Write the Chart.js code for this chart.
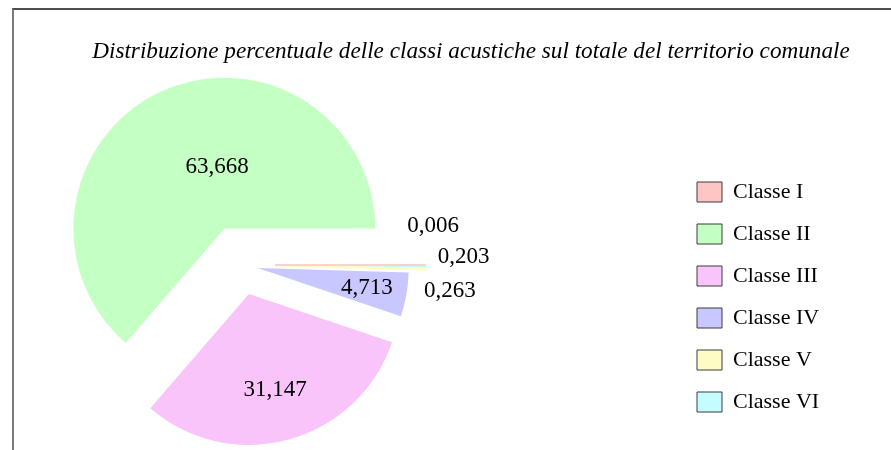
<!DOCTYPE html>
<html>
<head>
<meta charset="utf-8">
<script src="https://cdn.jsdelivr.net/npm/chart.js@4.4.1/dist/chart.umd.min.js"></script>
<style>
  html, body { margin: 0; padding: 0; background: #fff; }
  body { width: 891px; height: 450px; position: relative; overflow: hidden; }
  .cornice { position: absolute; left: 12px; top: 8px; width: 900px; height: 460px;
             border-left: 2px solid #7a7a7a; border-top: 2px solid #4d4d4d; }
  #box { position: absolute; left: 0; top: 0; width: 891px; height: 450px; }
</style>
</head>
<body>
<div class="cornice"></div>
<div id="box"><canvas id="torta"></canvas></div>
<script>
// dati
const classi = ['Classe I', 'Classe II', 'Classe III', 'Classe IV', 'Classe V', 'Classe VI'];
const percentuali = [0.006, 63.668, 31.147, 4.713, 0.263, 0.203];
const colori = ['#ffc4c4', '#c4ffc4', '#f8c4fa', '#c9c7ff', '#fffbc4', '#c4fcff'];
const titolo = 'Distribuzione percentuale delle classi acustiche sul totale del territorio comunale';

// stile: distanza di "esplosione" delle fette e posizione etichette (frazione raggio, rotazione gradi)
const esplosione = [34, 40, 30, 17, 34, 34];
const etichette = [[1.08, -14], [0.41, 18], [0.66, 0], [0.735, 0], [1.17, 7], [1.25, -3]];

const serif = '"Liberation Serif", "Times New Roman", serif';
const R = 151;
const centroX = 241, centroY = 265, titoloX = 471, titoloW = 759, legendaX = 697;

// Chart.js gira in senso orario, l'originale in senso antiorario
const ordine = classi.map((c, i) => i).reverse();

function testo(v) {
  return v.toFixed(3).replace('.', ',');
}

// misure dei testi per sistemare il layout
const mis = document.createElement('canvas').getContext('2d');
mis.font = '22px ' + serif;
const maxTesto = Math.max(...classi.map(c => mis.measureText(c).width));
const legendaW = 20 + 25 + 11 + maxTesto + 10;
mis.font = 'italic 24px ' + serif;
const titoloSize = 24 * (titoloW - 1) / mis.measureText(titolo).width;

// titolo su [pl, 891-pr]; torta centrata in centroX; spazi vuoti prima e dopo la legenda
const pl = titoloX - titoloW / 2;
const pr = 891 - (titoloX + titoloW / 2);
const spazioPrima = (legendaX - 20) - (2 * centroX - pl);
const spazioDopo = (891 - pr) - (legendaX - 20) - legendaW;
const pb = 17;
const titoloPadTop = 38;
const titoloPadBottom = (2 * centroY - (450 - pb)) - titoloPadTop - titoloSize * 1.2;

function spazioVuoto(larghezza, peso) {
  return {
    position: 'right', weight: peso, fullSize: false,
    options: {},
    isHorizontal() { return false; },
    update(maxWidth, maxHeight) { this.width = larghezza; this.height = maxHeight; },
    draw() {}
  };
}

const spazi = {
  id: 'spazi',
  start(chart) {
    Chart.layouts.addBox(chart, spazioVuoto(spazioPrima, 500));
    Chart.layouts.addBox(chart, spazioVuoto(spazioDopo, 1500));
  }
};

const esplodi = {
  id: 'esplodi',
  afterDatasetsUpdate(chart) {
    chart.getDatasetMeta(0).data.forEach((arc, k) => {
      const i = ordine[k];
      const mid = (arc.startAngle + arc.endAngle) / 2;
      arc.x += Math.cos(mid) * esplosione[i];
      arc.y += Math.sin(mid) * esplosione[i];
    });
  }
};

const valori = {
  id: 'valori',
  afterDatasetsDraw(chart) {
    const ctx = chart.ctx;
    ctx.save();
    ctx.font = '23px ' + serif;
    ctx.fillStyle = '#000';
    ctx.textAlign = 'center';
    ctx.textBaseline = 'middle';
    chart.getDatasetMeta(0).data.forEach((arc, k) => {
      const i = ordine[k];
      const a = (arc.startAngle + arc.endAngle) / 2 + etichette[i][1] * Math.PI / 180;
      const r = arc.outerRadius * etichette[i][0];
      ctx.fillText(testo(percentuali[i]), arc.x + Math.cos(a) * r, arc.y + Math.sin(a) * r);
    });
    ctx.restore();
  }
};

new Chart(document.getElementById('torta'), {
  type: 'pie',
  data: {
    labels: ordine.map(i => classi[i]),
    datasets: [{
      data: ordine.map(i => percentuali[i]),
      backgroundColor: ordine.map(i => colori[i]),
      borderColor: ordine.map(i => colori[i]),
      borderWidth: ordine.map(i => percentuali[i] < 1 ? 1 : 0)
    }]
  },
  options: {
    responsive: true,
    maintainAspectRatio: false,
    animation: false,
    events: [],
    rotation: 90,
    radius: R,
    layout: { padding: { left: pl, right: pr, top: 0, bottom: pb } },
    plugins: {
      title: {
        display: true,
        text: titolo,
        color: '#000',
        font: { family: serif, size: titoloSize, style: 'italic', weight: 'normal' },
        padding: { top: titoloPadTop, bottom: titoloPadBottom }
      },
      legend: {
        position: 'right',
        align: 'end',
        reverse: true,
        maxWidth: legendaW + 1,
        labels: {
          color: '#000',
          font: { family: serif, size: 22 },
          boxWidth: 25,
          boxHeight: 20,
          padding: 20,
          generateLabels(chart) {
            const items = Chart.overrides.doughnut.plugins.legend.labels.generateLabels(chart);
            items.forEach(it => { it.strokeStyle = '#3c3c3c'; it.lineWidth = 1; });
            return items;
          }
        }
      },
      tooltip: { enabled: false }
    }
  },
  plugins: [spazi, esplodi, valori]
});
</script>
</body>
</html>
